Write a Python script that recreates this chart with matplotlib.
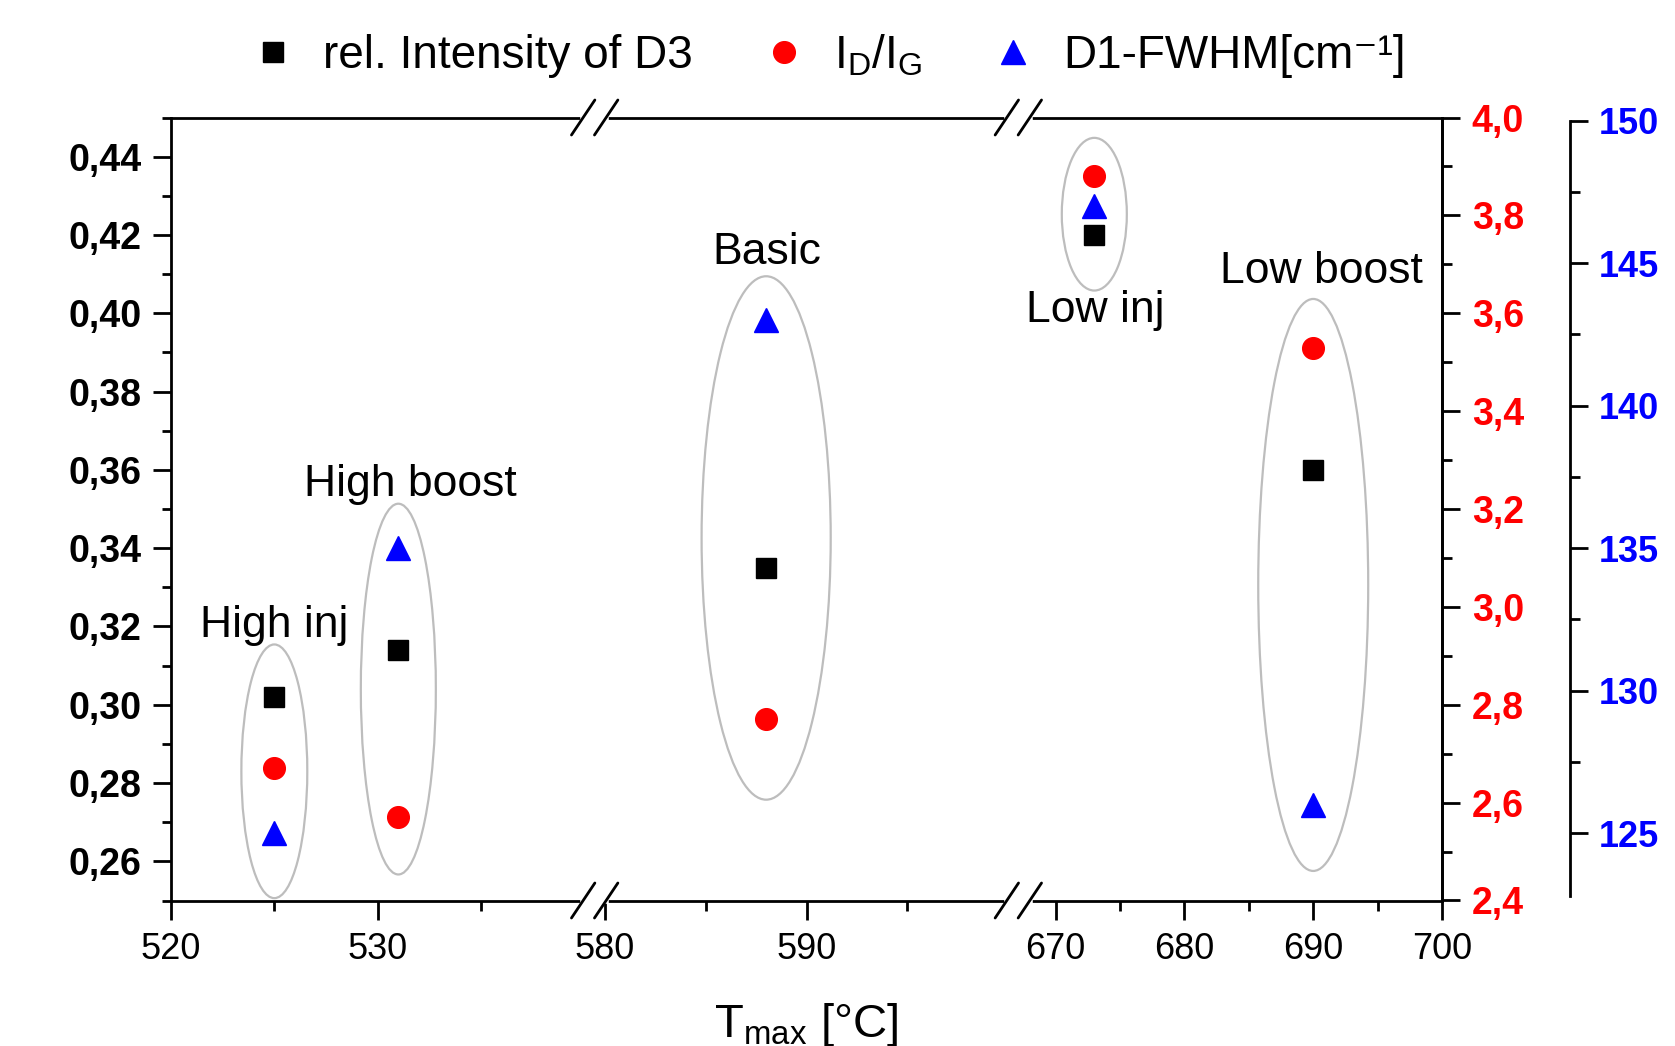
import numpy as np
import matplotlib
matplotlib.use("Agg")
import matplotlib.pyplot as plt
from matplotlib.patches import Ellipse
from matplotlib.lines import Line2D
from matplotlib.ticker import FixedLocator, MultipleLocator, FuncFormatter

plt.rcParams['font.family'] = ['Liberation Sans', 'DejaVu Sans']
plt.rcParams['mathtext.fontset'] = 'custom'
plt.rcParams['mathtext.rm'] = 'Liberation Sans'
plt.rcParams['mathtext.it'] = 'Liberation Sans:italic'
plt.rcParams['mathtext.bf'] = 'Liberation Sans:bold'

# operating points
groups = ["High inj", "High boost", "Basic", "Low inj", "Low boost"]
t_max = [525, 531, 588, 673, 690]
rel_d3 = [0.302, 0.314, 0.335, 0.420, 0.360]
id_ig = [2.67, 2.57, 2.77, 3.88, 3.53]
d1_fwhm = [125, 135, 143, 147, 126]

# group label anchors (x, left-axis y) and the gray ellipses (x, y, w, h)
label_pos = [(525, 0.3173), (531.6, 0.3533), (588.05, 0.4125), (673.1, 0.3977), (690.6, 0.4076)]
ellipses = [(525, 0.283, 3.19, 0.0648), (531.0, 0.304, 3.63, 0.0947),
            (588, 0.3426, 6.4, 0.1337), (673, 0.4253, 5.05, 0.039),
            (690, 0.3306, 8.54, 0.1461)]

x_major = [520, 530, 580, 590, 670, 680, 690, 700]
x_minor = [525, 535, 585, 595, 675, 685, 695]

# broken x axis: three segments, each a third of the width
eps = 1e-9
x_knots = [520, 540.5, 579.5, 600.5, 667.1, 700]
f_knots = [0, 1 / 3, 1 / 3 + eps, 2 / 3, 2 / 3 + eps, 1]


def fwd(x):
    return np.interp(x, x_knots, f_knots)


def inv(f):
    return np.interp(f, f_knots, x_knots)


fig = plt.figure(figsize=(16.75, 10.46), dpi=100)
ax = fig.add_axes([171 / 1675, 1 - 900.5 / 1046, 1271 / 1675, 783 / 1046])
ax.set_xscale('function', functions=(fwd, inv))
ax.set_xlim(520, 700)
ax.set_ylim(0.25, 0.45)

ax2 = ax.twinx()
ax3 = ax.twinx()
ax2.set_ylim(2.4, 4.0)
ax3.set_ylim(122.64, 150.11)

lw = 2.0
for a in (ax, ax2, ax3):
    for s in a.spines.values():
        s.set_linewidth(lw)
for k in ('left', 'top', 'bottom'):
    ax2.spines[k].set_visible(False)
    ax3.spines[k].set_visible(False)
ax3.spines['right'].set_position(('axes', (1570 - 171) / 1271))
ax3.spines['right'].set_bounds(122.8, 150)

# x ticks
ax.xaxis.set_major_locator(FixedLocator(x_major))
ax.xaxis.set_minor_locator(FixedLocator(x_minor))
ax.xaxis.set_major_formatter(FuncFormatter(lambda v, p: f"{v:.0f}"))
ax.tick_params(axis='x', which='major', direction='out', length=14, width=lw,
               labelsize=26, pad=8.5)
ax.tick_params(axis='x', which='minor', direction='out', length=7, width=lw)

# left axis
ax.yaxis.set_major_locator(MultipleLocator(0.02))
ax.yaxis.set_minor_locator(MultipleLocator(0.01))
ax.yaxis.set_major_formatter(FuncFormatter(lambda v, p: f"{v:.2f}".replace('.', ',')))
ax.tick_params(axis='y', which='major', direction='out', length=13, width=lw,
               labelsize=27, pad=8)
ax.tick_params(axis='y', which='minor', direction='out', length=6.5, width=lw)
for t in ax.get_yticklabels():
    t.set_fontweight('bold')

# red axis
ax2.yaxis.set_major_locator(MultipleLocator(0.2))
ax2.yaxis.set_minor_locator(MultipleLocator(0.1))
ax2.yaxis.set_major_formatter(FuncFormatter(lambda v, p: f"{v:.1f}".replace('.', ',')))
ax2.tick_params(axis='y', which='major', direction='out', length=13, width=lw,
                labelsize=27, pad=8.5, labelcolor='#ff0000')
ax2.tick_params(axis='y', which='minor', direction='out', length=7, width=lw)
for t in ax2.get_yticklabels():
    t.set_fontweight('bold')

# blue axis
ax3.yaxis.set_major_locator(MultipleLocator(5))
ax3.yaxis.set_minor_locator(MultipleLocator(2.5))
ax3.yaxis.set_major_formatter(FuncFormatter(lambda v, p: f"{v:.0f}"))
ax3.tick_params(axis='y', which='major', direction='out', length=13, width=lw,
                labelsize=26, pad=8, labelcolor='#0000ff')
ax3.tick_params(axis='y', which='minor', direction='out', length=7, width=lw)
for t in ax3.get_yticklabels():
    t.set_fontweight('bold')

# ellipses and group names
for (ex, ey, ew, eh) in ellipses:
    ax.add_patch(Ellipse((ex, ey), ew, eh, fill=False, edgecolor='#bdbdbd', lw=1.6, zorder=1))
for name, (lx, ly) in zip(groups, label_pos):
    ax.text(lx, ly, name, ha='center', va='baseline', fontsize=32, zorder=3)

# data
ax.plot(t_max, rel_d3, 's', color='black', ms=13.7, ls='none', zorder=4)
ax2.plot(t_max, id_ig, 'o', color='#ff0000', ms=15.6, ls='none', zorder=4)
ax3.plot(t_max, d1_fwhm, '^', color='#0000ff', ms=17, ls='none', zorder=4)

# break marks on top and bottom spines
sep = 11.5 / 1271
dx = 11.7 / 1271
dy = 17.5 / 783
for xb in (1 / 3, 2 / 3):
    for yb in (0, 1):
        ax.plot([xb - sep, xb + sep], [yb, yb], color='white', lw=4,
                transform=ax.transAxes, clip_on=False, zorder=6)
        for s in (-sep, sep):
            ax.plot([xb + s - dx, xb + s + dx], [yb - dy, yb + dy], color='black',
                    lw=2, solid_capstyle='round', transform=ax.transAxes,
                    clip_on=False, zorder=7)

# legend
handles = [
    Line2D([], [], marker='s', color='black', ls='none', ms=13.7),
    Line2D([], [], marker='o', color='#ff0000', ls='none', ms=15.6),
    Line2D([], [], marker='^', color='#0000ff', ls='none', ms=17),
]
labels = ["rel. Intensity of D3", r"I$_\mathrm{D}$/I$_\mathrm{G}$", "D1-FWHM[cm\u207b\u00b9]"]
fig.legend(handles, labels, loc='center', bbox_to_anchor=(0.497, 0.947), ncol=3,
           frameon=False, fontsize=33, handlelength=0.6, handletextpad=0.8,
           columnspacing=1.68, borderpad=0, borderaxespad=0)

fig.text(0.4815, 0.0089, r"T$_\mathrm{max}$ [°C]", ha='center', va='baseline', fontsize=34)

fig.savefig("out.png", dpi=100)
